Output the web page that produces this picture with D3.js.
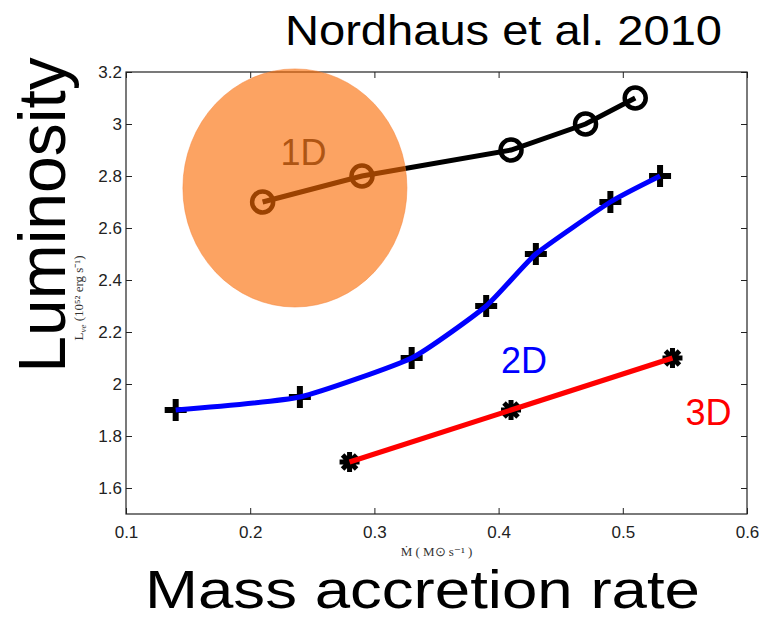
<!DOCTYPE html>
<html>
<head>
<meta charset="utf-8">
<script src="https://cdn.jsdelivr.net/npm/d3@7"></script>
<style>
  html, body { margin: 0; padding: 0; background: #fff; }
  svg { display: block; }
  .tick text { font-family: "Liberation Sans", Arial, sans-serif; font-size: 17px; fill: #222; }
  .big { font-family: "Liberation Sans", Arial, sans-serif; fill: #000; }
  .serif { font-family: "Liberation Serif", "Times New Roman", serif; fill: #333; }
</style>
</head>
<body>
<div id="chart"></div>
<script>
// values
const xTicks = [0.1, 0.2, 0.3, 0.4, 0.5, 0.6];
const xTickLabels = ['0.1', '0.2', '0.3', '0.4', '0.5', '0.6'];
const yTicks = [1.6, 1.8, 2.0, 2.2, 2.4, 2.6, 2.8, 3.0, 3.2];
const yTickLabels = ['1.6', '1.8', '2', '2.2', '2.4', '2.6', '2.8', '3', '3.2'];

const mdot1D = [0.21, 0.29, 0.41, 0.47, 0.51];
const lum1D  = [2.7, 2.8, 2.9, 3.0, 3.1];

const mdot2D = [0.14, 0.24, 0.33, 0.39, 0.43, 0.49, 0.53];
const lum2D  = [1.9, 1.95, 2.1, 2.3, 2.5, 2.7, 2.8];

const mdot3D = [0.28, 0.41, 0.54];
const lum3D  = [1.7, 1.9, 2.1];

// annotation anchors, in data units
const labelNames = ['1D', '2D', '3D'];
const labelX = [0.243, 0.4205, 0.569];
const labelY = [2.842, 2.042, 1.842];
const blob = { x: 0.236, y: 2.754, rx: 0.0902, ry: 0.458 };

const width = 759, height = 620;
const margin = { top: 72, right: 12, bottom: 106, left: 126 };

const svg = d3.select('#chart').append('svg')
    .attr('width', width)
    .attr('height', height);

const x = d3.scaleLinear().domain([0.1, 0.6]).range([margin.left, width - margin.right]);
const y = d3.scaleLinear().domain([1.5, 3.2]).range([height - margin.bottom, margin.top]);

const pts = (xs, ys) => xs.map((v, i) => [v, ys[i]]);

// axes, MATLAB style: ticks inward on every side
const axisColor = '#222';
function styleAxis(g) {
    g.select('.domain').remove();
    g.selectAll('.tick line').attr('stroke', axisColor);
}

svg.append('g')
    .attr('transform', `translate(0,${y.range()[0]})`)
    .call(d3.axisBottom(x).tickValues(xTicks).tickFormat((d, i) => xTickLabels[i])
        .tickSizeInner(-6).tickSizeOuter(0).tickPadding(12))
    .call(styleAxis);

svg.append('g')
    .attr('transform', `translate(0,${y.range()[1]})`)
    .call(d3.axisTop(x).tickValues(xTicks).tickFormat('')
        .tickSizeInner(-6).tickSizeOuter(0))
    .call(styleAxis);

svg.append('g')
    .attr('transform', `translate(${x.range()[0]},0)`)
    .call(d3.axisLeft(y).tickValues(yTicks).tickFormat((d, i) => yTickLabels[i])
        .tickSizeInner(-6).tickSizeOuter(0).tickPadding(4))
    .call(styleAxis);

svg.append('g')
    .attr('transform', `translate(${x.range()[1]},0)`)
    .call(d3.axisRight(y).tickValues(yTicks).tickFormat('')
        .tickSizeInner(-6).tickSizeOuter(0))
    .call(styleAxis);

svg.append('rect')
    .attr('x', x.range()[0])
    .attr('y', y.range()[1])
    .attr('width', x.range()[1] - x.range()[0])
    .attr('height', y.range()[0] - y.range()[1])
    .attr('fill', 'none')
    .attr('stroke', axisColor)
    .attr('stroke-width', 1.2);

const plot = svg.append('g');

// 2D: plus markers under a smooth blue curve
const plusPath = 'M-11,0H11M0,-11V11';
plot.selectAll('.m2d')
    .data(pts(mdot2D, lum2D))
    .enter().append('path')
    .attr('class', 'm2d')
    .attr('d', plusPath)
    .attr('transform', d => `translate(${x(d[0])},${y(d[1])})`)
    .attr('stroke', '#000')
    .attr('stroke-width', 6);

plot.append('path')
    .datum(pts(mdot2D, lum2D))
    .attr('fill', 'none')
    .attr('stroke', '#0000ff')
    .attr('stroke-width', 5)
    .attr('d', d3.line().x(d => x(d[0])).y(d => y(d[1])).curve(d3.curveCardinal.tension(0.5)));

// 3D: asterisks under a red line
const starPath = 'M-10,0H10M0,-10V10M-7,-7L7,7M-7,7L7,-7';
plot.selectAll('.m3d')
    .data(pts(mdot3D, lum3D))
    .enter().append('path')
    .attr('class', 'm3d')
    .attr('d', starPath)
    .attr('transform', d => `translate(${x(d[0])},${y(d[1])})`)
    .attr('stroke', '#000')
    .attr('stroke-width', 5);

plot.append('path')
    .datum(pts(mdot3D, lum3D))
    .attr('fill', 'none')
    .attr('stroke', '#ff0000')
    .attr('stroke-width', 5)
    .attr('d', d3.line().x(d => x(d[0])).y(d => y(d[1])));

// 1D: black line with open circles
plot.append('path')
    .datum(pts(mdot1D, lum1D))
    .attr('fill', 'none')
    .attr('stroke', '#000')
    .attr('stroke-width', 5)
    .attr('d', d3.line().x(d => x(d[0])).y(d => y(d[1])));

plot.selectAll('.m1d')
    .data(pts(mdot1D, lum1D))
    .enter().append('circle')
    .attr('class', 'm1d')
    .attr('cx', d => x(d[0]))
    .attr('cy', d => y(d[1]))
    .attr('r', 10.5)
    .attr('fill', 'none')
    .attr('stroke', '#000')
    .attr('stroke-width', 4.5);

// series labels
const labelColors = ['#333', '#0000ff', '#ff0000'];
plot.selectAll('.lbl')
    .data(labelNames)
    .enter().append('text')
    .attr('class', 'big')
    .attr('x', (d, i) => x(labelX[i]))
    .attr('y', (d, i) => y(labelY[i]))
    .attr('text-anchor', 'middle')
    .style('font-size', '36px')
    .style('fill', (d, i) => labelColors[i])
    .text(d => d);

// translucent orange highlight over the start of the 1D curve
plot.append('ellipse')
    .attr('cx', x(blob.x))
    .attr('cy', y(blob.y))
    .attr('rx', x(blob.x + blob.rx) - x(blob.x))
    .attr('ry', y(blob.y) - y(blob.y + blob.ry))
    .attr('fill', '#fa6a02')
    .attr('fill-opacity', 0.62)
    .attr('stroke', '#f6843a')
    .attr('stroke-opacity', 0.5)
    .attr('stroke-width', 1);

// small original axis labels
svg.append('text')
    .attr('class', 'serif')
    .attr('x', (x.range()[0] + x.range()[1]) / 2)
    .attr('y', 556)
    .attr('text-anchor', 'middle')
    .style('font-size', '13px')
    .text('Ṁ ( M⊙ s⁻¹ )');

const yl = svg.append('text')
    .attr('class', 'serif')
    .attr('transform', 'translate(83,298) rotate(-90)')
    .attr('text-anchor', 'middle')
    .style('font-size', '13px');
yl.append('tspan').text('L');
yl.append('tspan').attr('dy', 3).style('font-size', '9px').style('font-style', 'italic').text('νe');
yl.append('tspan').attr('dy', -3).text(' (10⁵² erg s⁻¹)');

// big overlay titles
svg.append('text')
    .attr('class', 'big')
    .attr('x', 722)
    .attr('y', 45)
    .attr('text-anchor', 'end')
    .style('font-size', '42px')
    .attr('textLength', 437)
    .attr('lengthAdjust', 'spacingAndGlyphs')
    .text('Nordhaus et al. 2010');

svg.append('text')
    .attr('class', 'big')
    .attr('transform', 'translate(65,215) rotate(-90)')
    .attr('text-anchor', 'middle')
    .style('font-size', '66px')
    .text('Luminosity');

svg.append('text')
    .attr('class', 'big')
    .attr('x', 145)
    .attr('y', 608)
    .style('font-size', '53px')
    .attr('textLength', 555)
    .attr('lengthAdjust', 'spacingAndGlyphs')
    .text('Mass accretion rate');
</script>
</body>
</html>
